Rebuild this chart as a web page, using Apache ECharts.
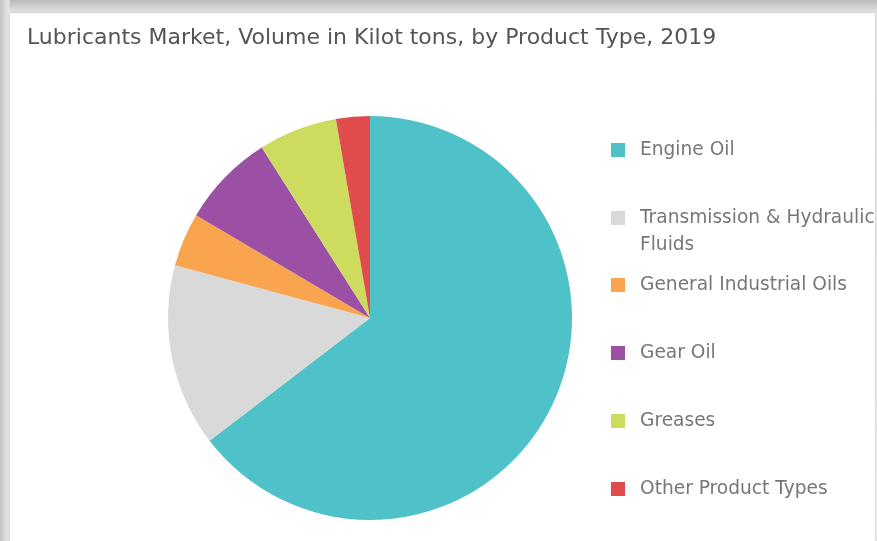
<!DOCTYPE html>
<html>
<head>
<meta charset="utf-8">
<script src="https://cdn.jsdelivr.net/npm/echarts@6/dist/echarts.min.js"></script>
<style>
  html, body { margin: 0; padding: 0; width: 877px; height: 541px; overflow: hidden; }
  body { background: linear-gradient(to bottom, #b9b9b9 0px, #e6e6e6 13px, #ececec 100%); position: relative; }
  #frame { position: absolute; left: 0; top: 0; width: 877px; height: 541px;
           background: linear-gradient(to right, #c4c4c4 0px, #e8e8e8 9px, transparent 10px); }
  #card { position: absolute; left: 10px; top: 13px; width: 865px; height: 540px; background: #fff;
          box-shadow: 0 0 3px rgba(0,0,0,0.15); }
  #chart { position: absolute; left: 0; top: 0; width: 877px; height: 541px; }
</style>
</head>
<body>
<div id="frame"></div>
<div id="card"></div>
<div id="chart"></div>
<script>
const titleText = 'Lubricants Market, Volume in Kilot tons, by Product Type, 2019';
const categories = ['Engine Oil', 'Transmission & Hydraulic Fluids', 'General Industrial Oils', 'Gear Oil', 'Greases', 'Other Product Types'];
const values = [64.6, 14.6, 4.3, 7.5, 6.3, 2.7];
const colors = ['#4fc2c9', '#d9d9d9', '#f9a550', '#9b4fa5', '#cddc5f', '#e04b4b'];
const legendGroupA = categories.slice(0, 2);
const legendGroupB = categories.slice(2);

const lf = { fontFamily: 'DejaVu Sans', fontWeight: 'normal', fontSize: 18.6, color: '#777777' };
const legendText = Object.assign({}, lf, { lineHeight: 27, padding: [0, 0, 0, 10],
  rich: {
    a: Object.assign({}, lf, { lineHeight: 27 }),
    b: Object.assign({}, lf, { lineHeight: 0, height: 27, verticalAlign: 'top' })
  } });
function legendFmt(n) {
  if (n === 'Transmission & Hydraulic Fluids') return '{a|Transmission & Hydraulic}\n{b|Fluids}';
  return '{a|' + n + '}';
}
function makeLegend(names, top) {
  return {
    orient: 'vertical', left: 611, top: top, padding: 0,
    itemWidth: 14, itemHeight: 14, itemGap: 41, icon: 'rect',
    selectedMode: false, formatter: legendFmt, textStyle: legendText,
    data: names.map(function (c) { return { name: c }; })
  };
}

const chart = echarts.init(document.getElementById('chart'), null, { renderer: 'canvas' });
chart.setOption({
  backgroundColor: 'transparent',
  animation: false,
  title: {
    text: titleText,
    left: 27,
    top: 27,
    padding: 0,
    textStyle: { fontFamily: 'DejaVu Sans', fontSize: 22, fontWeight: 'normal', color: '#555555' }
  },
  legend: [makeLegend(legendGroupA, 136.5), makeLegend(legendGroupB, 271.5)],
  series: [{
    type: 'pie',
    center: [370, 318],
    radius: [0, 202],
    startAngle: 90,
    clockwise: true,
    label: { show: false },
    labelLine: { show: false },
    emphasis: { disabled: true },
    itemStyle: { borderWidth: 0 },
    data: categories.map(function (c, i) { return { name: c, value: values[i], itemStyle: { color: colors[i] } }; })
  }]
});
</script>
</body>
</html>
